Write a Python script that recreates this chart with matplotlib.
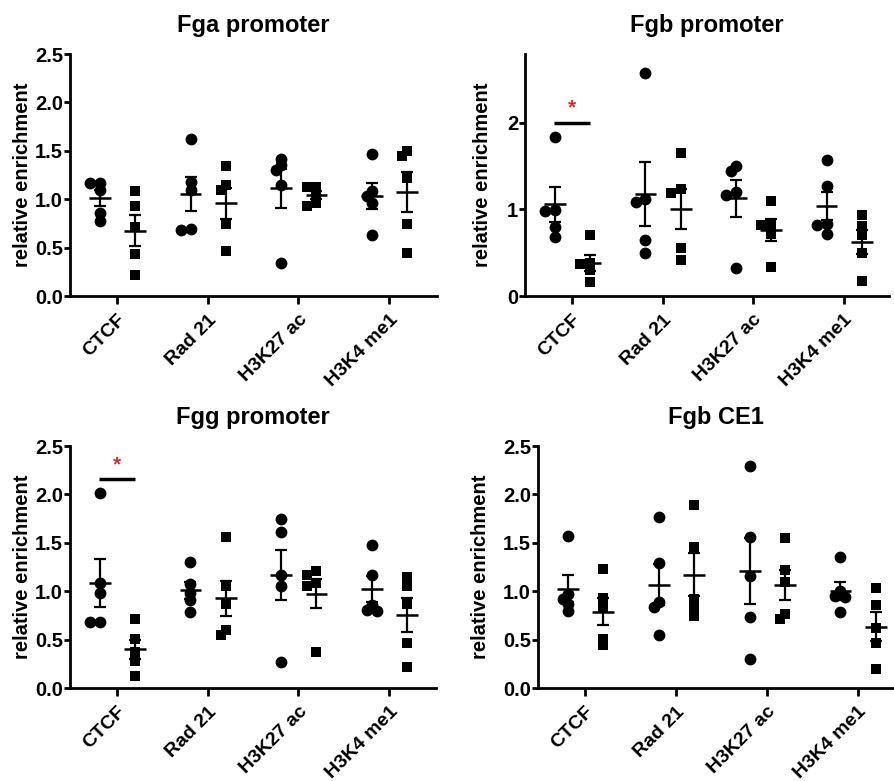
import numpy as np
import matplotlib
matplotlib.use("Agg")
import matplotlib.pyplot as plt

plt.rcParams['font.family'] = ['Liberation Sans', 'DejaVu Sans']
plt.rcParams['font.weight'] = 'bold'

categories = ["CTCF", "Rad 21", "H3K27 ac", "H3K4 me1"]

# Fga promoter
fga_circ = [[1.17, 1.17, 1.10, 0.86, 0.77], [1.62, 1.18, 1.09, 0.69, 0.68],
            [1.42, 1.35, 1.30, 1.15, 0.34], [1.47, 1.08, 1.03, 0.96, 0.63]]
fga_sq = [[1.08, 0.93, 0.71, 0.43, 0.22], [1.34, 1.15, 1.09, 0.74, 0.46],
          [1.13, 1.13, 1.05, 0.96, 0.93], [1.50, 1.45, 1.22, 0.74, 0.44]]

# Fgb promoter
fgb_circ = [[1.83, 0.99, 0.98, 0.80, 0.68], [2.57, 1.12, 1.08, 0.64, 0.49],
            [1.50, 1.44, 1.20, 1.17, 0.32], [1.57, 1.27, 0.83, 0.82, 0.72]]
fgb_sq = [[0.70, 0.38, 0.37, 0.30, 0.16], [1.65, 1.23, 1.19, 0.55, 0.41],
          [1.10, 0.82, 0.82, 0.72, 0.34], [0.93, 0.81, 0.70, 0.50, 0.17]]

# Fgg promoter
fgg_circ = [[2.01, 1.08, 0.98, 0.68, 0.68], [1.30, 1.07, 0.98, 0.91, 0.79],
            [1.75, 1.61, 1.17, 1.05, 0.27], [1.48, 1.17, 0.86, 0.81, 0.80]]
fgg_sq = [[0.71, 0.51, 0.37, 0.28, 0.12], [1.56, 1.05, 0.87, 0.60, 0.55],
          [1.21, 1.17, 1.08, 1.05, 0.37], [1.15, 1.05, 0.87, 0.47, 0.22]]

# Fgb CE1
ce1_circ = [[1.57, 0.97, 0.92, 0.87, 0.80], [1.77, 1.29, 0.89, 0.84, 0.55],
            [2.29, 1.56, 1.16, 0.73, 0.30], [1.35, 1.00, 0.95, 0.94, 0.79]]
ce1_sq = [[1.23, 0.93, 0.84, 0.51, 0.44], [1.89, 1.46, 0.92, 0.85, 0.74],
          [1.55, 1.22, 1.10, 0.76, 0.71], [1.03, 0.86, 0.62, 0.46, 0.20]]

W, H = 894, 781


def swarm(vals, center, ppx, ppy, diam=11.0):
    # simple beeswarm in pixel space, points may overlap a little
    vals = np.asarray(vals)
    out = np.zeros(len(vals))
    placed = []
    for i in np.argsort(vals)[::-1]:
        y = vals[i] * ppy
        for k in [0, -1, 1, -2, 2, -3, 3]:
            x = k * diam * 0.45
            if all(np.hypot(x - px, y - py) >= diam * 0.6 for px, py in placed):
                break
        placed.append((x, y))
        out[i] = center + x / ppx
    return out


def panel(box, title, circ, sq, ymax, yticks, ylabels, xright, sig=None, ylab_x=-0.1):
    l, t, r, b = box
    ax = fig.add_axes([l / W, (H - b) / H, (r - l) / W, (b - t) / H])
    xmin = -0.52
    ax.set_xlim(xmin, xright)
    ax.set_ylim(0, ymax)
    ppx = (r - l) / (xright - xmin)
    ppy = (b - t) / ymax
    for i in range(len(categories)):
        for vals, off, mk, ms in [(circ[i], -0.19, 'o', 8.5), (sq[i], 0.2, 's', 7.5)]:
            v = np.array(vals)
            xs = swarm(v, i + off, ppx, ppy)
            ax.plot(xs, v, mk, color='black', ms=ms, mew=0, clip_on=False, zorder=3)
            m = v.mean()
            sem = v.std(ddof=1) / np.sqrt(len(v))
            ax.hlines(m, i + off - 0.12, i + off + 0.12, color='black', lw=1.8, zorder=4)
            ax.errorbar(i + off, m, yerr=sem, fmt='none', ecolor='black',
                        elinewidth=1.6, capsize=4.5, capthick=1.6, zorder=4)
    if sig is not None:
        ax.hlines(sig, -0.2, 0.2, color='black', lw=2.5, clip_on=False)
        ax.text(0, sig + 0.02 * ymax, '*', color='#e32b2b', ha='center', va='bottom',
                fontsize=15, fontweight='bold')
    for s in ['top', 'right']:
        ax.spines[s].set_visible(False)
    for s in ['left', 'bottom']:
        ax.spines[s].set_linewidth(2.0)
    ax.set_yticks(yticks)
    ax.set_yticklabels(ylabels)
    ax.set_xticks(range(len(categories)))
    ax.set_xticklabels(categories, rotation=45, ha='right', rotation_mode='anchor')
    ax.tick_params(axis='y', length=4, width=2.0, labelsize=14.5, pad=1)
    ax.tick_params(axis='x', length=6, width=2.0, labelsize=14, pad=5)
    ax.set_ylabel('relative enrichment', fontsize=14.5, fontweight='bold')
    ax.yaxis.set_label_coords(ylab_x, 0.5)
    ax.set_title(title, fontsize=17, fontweight='bold', pad=16)
    return ax


fig = plt.figure(figsize=(W / 100, H / 100), dpi=100)

std_ticks = [0, 0.5, 1.0, 1.5, 2.0, 2.5]
std_labels = ['0.0', '0.5', '1.0', '1.5', '2.0', '2.5']

panel((70, 54, 437, 296), 'Fga promoter', fga_circ, fga_sq, 2.5, std_ticks, std_labels,
      3.53, ylab_x=-0.104)
panel((525, 54, 889, 296), 'Fgb promoter', fgb_circ, fgb_sq, 2.79, [0, 1, 2], ['0', '1', '2'],
      3.5, sig=2.0, ylab_x=-0.09)
panel((70, 446, 436, 688), 'Fgg promoter', fgg_circ, fgg_sq, 2.5, std_ticks, std_labels,
      3.52, sig=2.155, ylab_x=-0.104)
panel((538, 446, 894, 688), 'Fgb CE1', ce1_circ, ce1_sq, 2.5, std_ticks, std_labels,
      3.4, ylab_x=-0.135)

fig.savefig('out.png', dpi=100)
